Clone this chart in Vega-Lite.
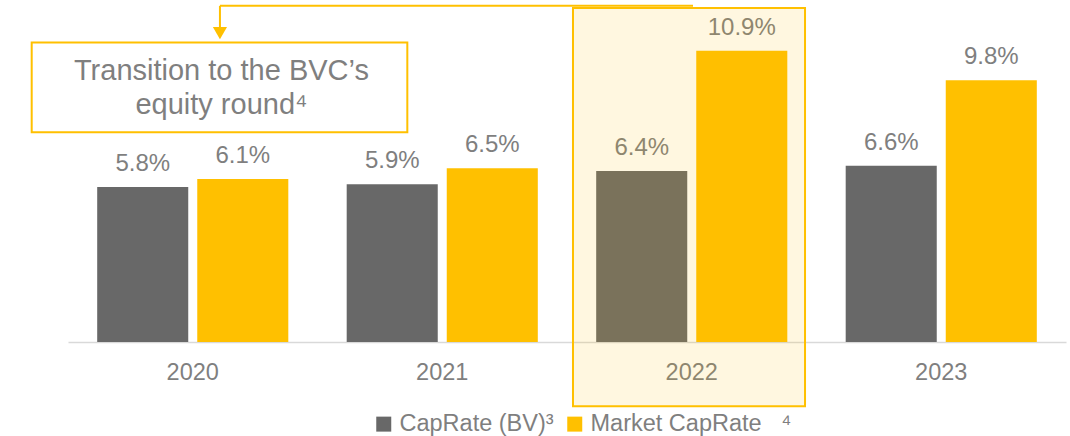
{
  "$schema": "https://vega.github.io/schema/vega-lite/v6.json",
  "width": 998,
  "height": 334,
  "autosize": {"type": "none"},
  "padding": {"left": 68, "top": 8, "right": 4, "bottom": 94},
  "background": "white",
  "config": {
    "view": {"stroke": null},
    "font": "Liberation Sans",
    "text": {"font": "Liberation Sans"}
  },
  "datasets": {
    "bars": [
      {"year": "2020", "series": "CapRate (BV)³", "value": 5.8, "label": "5.8%"},
      {"year": "2020", "series": "Market CapRate\u00a0\u00a0\u00a0⁴", "value": 6.1, "label": "6.1%"},
      {"year": "2021", "series": "CapRate (BV)³", "value": 5.9, "label": "5.9%"},
      {"year": "2021", "series": "Market CapRate\u00a0\u00a0\u00a0⁴", "value": 6.5, "label": "6.5%"},
      {"year": "2022", "series": "CapRate (BV)³", "value": 6.4, "label": "6.4%"},
      {"year": "2022", "series": "Market CapRate\u00a0\u00a0\u00a0⁴", "value": 10.9, "label": "10.9%"},
      {"year": "2023", "series": "CapRate (BV)³", "value": 6.6, "label": "6.6%"},
      {"year": "2023", "series": "Market CapRate\u00a0\u00a0\u00a0⁴", "value": 9.8, "label": "9.8%"}
    ],
    "annobox": [{"x": -0.1455, "x2": 1.36, "y": 11.21, "y2": 7.85}],
    "annotext": [{"x": 0.615, "y": 9.8, "t": ["Transition to the BVC’s", "equity round⁴"]}],
    "connector": [
      {"x": 0.609, "x2": 2.505, "y": 12.58, "y2": 12.58},
      {"x": 0.609, "x2": 0.609, "y": 12.58, "y2": 11.75}
    ],
    "arrow": [{"x": 0.609, "y": 11.56}],
    "highlight": [{"x": 2.024, "x2": 2.954, "y": 12.5, "y2": -2.4}]
  },
  "resolve": {"scale": {"x": "independent"}, "axis": {"x": "independent"}},
  "layer": [
    {
      "data": {"name": "bars"},
      "layer": [
        {
          "mark": {"type": "bar"},
          "encoding": {
            "x": {
              "field": "year", "type": "nominal",
              "scale": {"paddingInner": 0.234, "paddingOuter": 0.117},
              "axis": {
                "title": null, "ticks": false, "tickSize": 0, "labelAngle": 0,
                "domainColor": "#d9d9d9", "domainWidth": 1.7,
                "labelFont": "Liberation Sans", "labelFontSize": 23.5, "labelColor": "#7f7f7f",
                "labelPadding": 18
              }
            },
            "xOffset": {
              "field": "series", "type": "nominal",
              "sort": ["CapRate (BV)³", "Market CapRate\u00a0\u00a0\u00a0⁴"],
              "scale": {"paddingInner": 0.09, "paddingOuter": 0}
            },
            "y": {
              "field": "value", "type": "quantitative",
              "scale": {"domain": [0, 12.5], "nice": false, "zero": true},
              "axis": null
            },
            "color": {
              "field": "series", "type": "nominal",
              "scale": {"domain": ["CapRate (BV)³", "Market CapRate\u00a0\u00a0\u00a0⁴"], "range": ["#686868", "#FFC000"]},
              "legend": {
                "title": null, "orient": "none", "direction": "horizontal",
                "legendX": 304, "legendY": 404,
                "symbolType": "square", "symbolSize": 225, "symbolStrokeWidth": 0,
                "labelFont": "Liberation Sans", "labelFontSize": 23.5, "labelColor": "#7f7f7f",
                "labelOffset": 4, "columnPadding": 9, "padding": 0, "labelLimit": 0
              }
            }
          }
        },
        {
          "mark": {"type": "text", "fontSize": 24, "color": "#7f7f7f", "baseline": "alphabetic", "dy": -16, "font": "Liberation Sans"},
          "encoding": {
            "x": {"field": "year", "type": "nominal"},
            "xOffset": {"field": "series", "type": "nominal", "sort": ["CapRate (BV)³", "Market CapRate\u00a0\u00a0\u00a0⁴"]},
            "y": {"field": "value", "type": "quantitative"},
            "text": {"field": "label"}
          }
        }
      ]
    },
    {
      "data": {"name": "annobox"},
      "mark": {"type": "rect", "fill": null, "fillOpacity": 0, "stroke": "#FFC000", "strokeWidth": 2},
      "encoding": {
        "x": {"field": "x", "type": "quantitative", "scale": {"domain": [0, 4], "nice": false, "zero": false}, "axis": null},
        "x2": {"field": "x2"},
        "y": {"field": "y", "type": "quantitative"},
        "y2": {"field": "y2"}
      }
    },
    {
      "data": {"name": "annotext"},
      "mark": {"type": "text", "fontSize": 29, "color": "#7f7f7f", "baseline": "alphabetic", "align": "center", "lineHeight": 34, "font": "Liberation Sans"},
      "encoding": {
        "x": {"field": "x", "type": "quantitative", "scale": {"domain": [0, 4], "nice": false, "zero": false}, "axis": null},
        "y": {"field": "y", "type": "quantitative"},
        "text": {"field": "t"}
      }
    },
    {
      "data": {"name": "connector"},
      "mark": {"type": "rule", "color": "#FFC000", "strokeWidth": 2},
      "encoding": {
        "x": {"field": "x", "type": "quantitative", "scale": {"domain": [0, 4], "nice": false, "zero": false}, "axis": null},
        "x2": {"field": "x2"},
        "y": {"field": "y", "type": "quantitative"},
        "y2": {"field": "y2"}
      }
    },
    {
      "data": {"name": "arrow"},
      "mark": {"type": "point", "shape": "triangle-down", "filled": true, "color": "#FFC000", "size": 200, "opacity": 1},
      "encoding": {
        "x": {"field": "x", "type": "quantitative", "scale": {"domain": [0, 4], "nice": false, "zero": false}, "axis": null},
        "y": {"field": "y", "type": "quantitative"}
      }
    },
    {
      "data": {"name": "highlight"},
      "mark": {"type": "rect", "fill": "#FFC000", "fillOpacity": 0.12, "stroke": "#FFC000", "strokeWidth": 2, "strokeOpacity": 1},
      "encoding": {
        "x": {"field": "x", "type": "quantitative", "scale": {"domain": [0, 4], "nice": false, "zero": false}, "axis": null},
        "x2": {"field": "x2"},
        "y": {"field": "y", "type": "quantitative"},
        "y2": {"field": "y2"}
      }
    }
  ]
}
